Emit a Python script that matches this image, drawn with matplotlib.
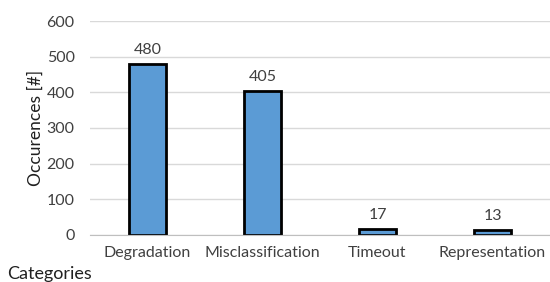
import matplotlib
matplotlib.use("Agg")
import matplotlib.pyplot as plt
import numpy as np

categories = ["Degradation", "Misclassification", "Timeout", "Representation"]
occurences = [480, 405, 17, 13]
yticks = [0, 100, 200, 300, 400, 500, 600]

plt.rcParams['font.family'] = ['Lato', 'DejaVu Sans']

fig = plt.figure(figsize=(5.5, 2.82), dpi=100)
ax = fig.add_axes([0.1636, 0.1667, 0.8364, 0.7588])

x = np.arange(len(categories))
ax.bar(x, occurences, width=0.32, color="#5b9bd5", edgecolor="black", linewidth=2, zorder=3)
for xi, v in zip(x, occurences):
    ax.annotate(str(v), (xi, v), xytext=(0, 5), textcoords="offset points",
                ha="center", va="bottom", fontsize=11.5, color="#404040")

ax.set_xlim(-0.5, 3.5)
ax.set_ylim(0, 600)
ax.set_yticks(yticks)
ax.set_xticks(x)
ax.set_xticklabels(categories)
ax.yaxis.grid(True, color="#d9d9d9", linewidth=1, zorder=0)
ax.set_axisbelow(True)
for s in ["top", "right", "left"]:
    ax.spines[s].set_visible(False)
ax.spines["bottom"].set_color("#bfbfbf")
ax.spines["bottom"].set_zorder(4)
ax.tick_params(axis="both", length=0, labelsize=11.5, labelcolor="#404040")
ax.tick_params(axis="x", pad=8)
ax.tick_params(axis="y", pad=11)
ax.set_ylabel("Occurences [#]", fontsize=12.5, color="#202020", labelpad=2)
fig.text(0.013, 0.012, "Categories", fontsize=13, color="#202020")

fig.savefig("out.png", dpi=100)
